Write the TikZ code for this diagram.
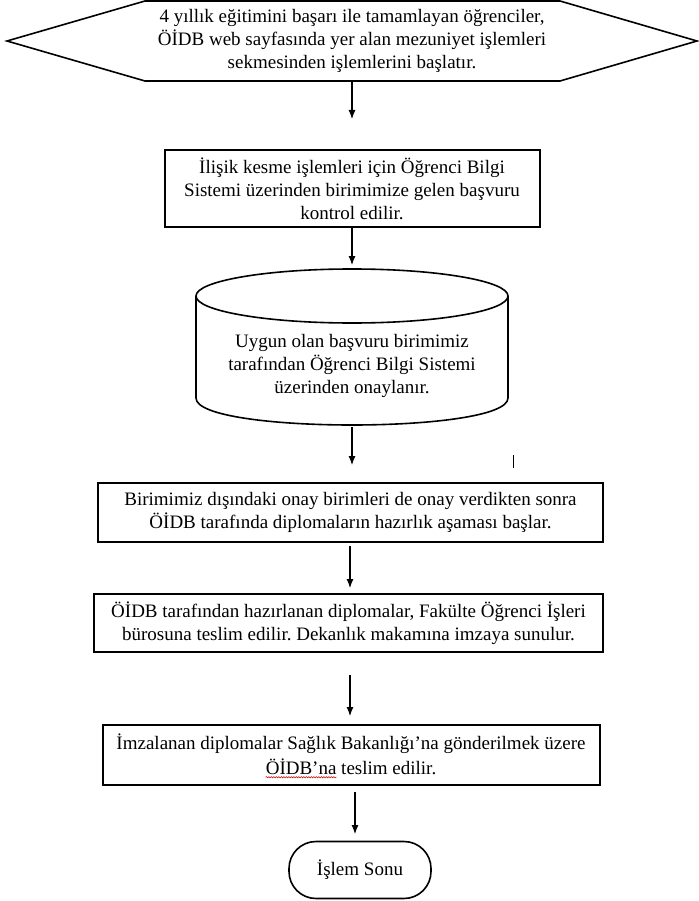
\documentclass[tikz,border=0pt]{standalone}
\usepackage{fontspec}
\setmainfont{Liberation Serif}
\usetikzlibrary{arrows.meta,decorations.pathmorphing}
\frenchspacing
\begin{document}
\begin{tikzpicture}[x=1pt,y=-1pt,
  fnt/.style={font=\fontsize{19}{23}\selectfont},
  box/.style={draw, line width=2pt, inner sep=0pt, align=center, fnt},
  txt/.style={inner sep=0pt, align=center, fnt},
  arr/.style={-{Latex[length=9pt,width=7pt]}, line width=1.1pt},
  shp/.style={draw, line width=1.6pt, line join=miter}]
\useasboundingbox (0,0) rectangle (698,901);

% hexagon (start)
\draw[shp] (7,41) -- (145,1) -- (560,1) -- (697,41) -- (560,81) -- (145,81) -- cycle;
\node[txt] (t1) at (352,41) {4 yıllık eğitimini başarı ile tamamlayan öğrenciler,\\ÖİDB web sayfasında yer alan mezuniyet işlemleri\\sekmesinden işlemlerini başlatır.};
\coordinate (a1s) at (352,82);
\coordinate (a1e) at (352,119);
\draw[arr] (a1s) -- (a1e);

% box 2
\node[box, minimum width=375pt, minimum height=77pt] (b2) at (352,189) {İlişik kesme işlemleri için Öğrenci Bilgi\\Sistemi üzerinden birimimize gelen başvuru\\kontrol edilir.};
\coordinate (a2e) at (352,265);
\draw[arr] (b2.south) -- (a2e);

% cylinder
\draw[shp] (352,296) ellipse [x radius=156, y radius=27];
\draw[shp] (196,296) -- (196,398) .. controls (196,434) and (508,434) .. (508,398) -- (508,296);
\node[txt] (cyl) at (352,366) {Uygun olan başvuru birimimiz\\tarafından Öğrenci Bilgi Sistemi\\üzerinden onaylanır.};
\coordinate (a3s) at (352,427);
\coordinate (a3e) at (352,465);
\draw[arr] (a3s) -- (a3e);
\draw[line width=0.8pt] (513,455) -- (513,468);

% box 4
\node[box, minimum width=505pt, minimum height=59pt] (b4) at (350.5,512) {Birimimiz dışındaki onay birimleri de onay verdikten sonra\\ÖİDB tarafında diplomaların hazırlık aşaması başlar.};
\coordinate (a4s) at (350,546);
\coordinate (a4e) at (350,588);
\draw[arr] (a4s) -- (a4e);

% box 5
\node[box, minimum width=509pt, minimum height=58pt] (b5) at (348.5,623) {ÖİDB tarafından hazırlanan diplomalar, Fakülte Öğrenci İşleri\\bürosuna teslim edilir. Dekanlık makamına imzaya sunulur.};
\coordinate (a5s) at (350,675);
\coordinate (a5e) at (350,716);
\draw[arr] (a5s) -- (a5e);

% box 6
\node[box, minimum width=497pt, minimum height=60pt] (b6) at (351,755) {};
\node[txt] (b6l1) at ([yshift=11.5pt]b6.center) {İmzalanan diplomalar Sağlık Bakanlığı'na gönderilmek üzere};
\node[txt] (b6l2) at ([yshift=-11.5pt]b6.center) {ÖİDB’na teslim edilir.};
\node[inner sep=0pt, anchor=base west, fnt] (w) at (b6l2.base west) {\phantom{ÖİDB’na}};
\draw[red!80!black, line width=0.5pt, decorate, decoration={snake, amplitude=0.7pt, segment length=2.5pt}] ([yshift=-3pt]w.base west) -- ([yshift=-3pt]w.base east);
\coordinate (a6s) at (355,792);
\coordinate (a6e) at (355,834);
\draw[arr] (a6s) -- (a6e);

% terminal
\node[draw, line width=1.6pt, rounded corners=27pt, minimum width=142pt, minimum height=57pt, inner sep=0pt, fnt] (end) at (360,870) {İşlem Sonu};
\end{tikzpicture}
\end{document}
